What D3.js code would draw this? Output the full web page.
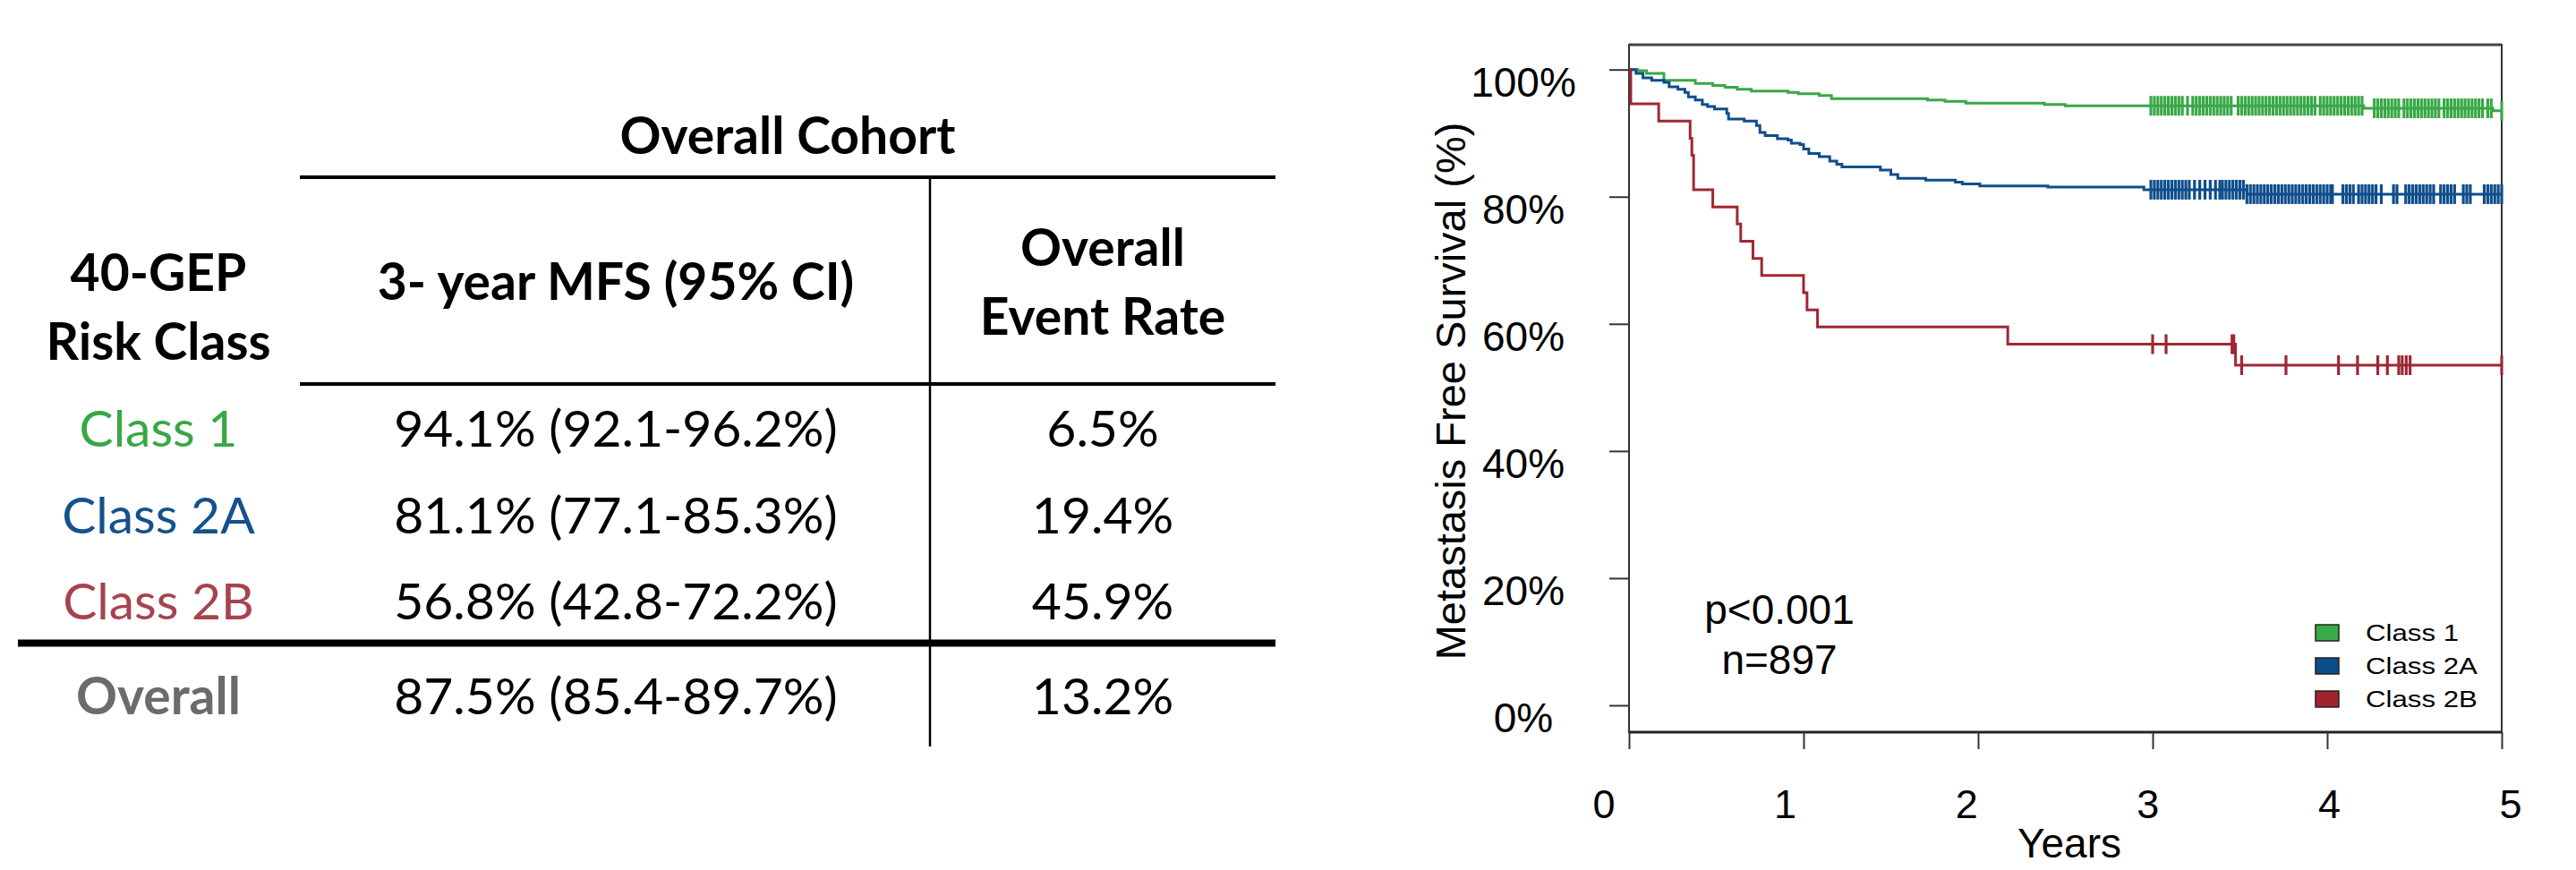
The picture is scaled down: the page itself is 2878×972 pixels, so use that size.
<!doctype html>
<html>
<head>
<meta charset="utf-8">
<title>40-GEP risk class - metastasis free survival</title>
<script src="https://cdnjs.cloudflare.com/ajax/libs/d3/7.8.5/d3.min.js"></script>
<style>
  body { margin: 0; background: #fff; }
  svg { display: block; }
</style>
</head>
<body>
<svg id="viz" width="2878" height="972"></svg>
<script>
// ---------- table data ----------
var riskClasses = ["Class 1", "Class 2A", "Class 2B"];
var classColors = ["#37a844", "#15518d", "#a6434f"];
var mfs3yr   = [94.1, 81.1, 56.8];
var ciLow    = [92.1, 77.1, 42.8];
var ciHigh   = [96.2, 85.3, 72.2];
var eventRate = [6.5, 19.4, 45.9];
var overallMfs = 87.5, overallLow = 85.4, overallHigh = 89.7, overallEvent = 13.2;

// ---------- KM curve data (years, % metastasis free) ----------
var class1Steps = [[0,100],[0.05,99.8],[0.10,99.4],[0.20,98.3],[0.38,97.8],[0.48,97.5],[0.55,97.2],
  [0.62,96.9],[0.70,96.6],[0.91,96.4],[0.97,96.2],[1.09,95.9],[1.16,95.4],[1.71,95.2],[1.81,95.0],
  [1.93,94.7],[2.38,94.5],[2.50,94.3],[4.21,93.9],[4.95,93.5],[5,93.5]];
var class2aSteps = [[0,100],[0.04,99.4],[0.08,98.7],[0.13,98.3],[0.20,98.0],[0.23,97.3],[0.28,96.9],
  [0.32,96.4],[0.34,95.7],[0.38,95.2],[0.42,94.5],[0.45,94.2],[0.49,93.8],[0.56,93.1],[0.57,92.2],
  [0.66,91.9],[0.73,91.2],[0.75,90.1],[0.78,89.6],[0.85,89.1],[0.91,88.9],[0.93,88.4],[0.98,88.2],
  [1.00,87.5],[1.03,86.8],[1.09,86.3],[1.15,85.6],[1.19,85.1],[1.22,84.7],[1.44,84.2],[1.50,83.5],
  [1.54,82.9],[1.70,82.6],[1.87,82.3],[1.91,82.0],[2.01,81.7],[2.40,81.5],[2.95,81.1],[3.54,80.4],[5,80.4]];
var class2bSteps = [[0,100],[0.01,94.6],[0.17,91.9],[0.35,89.2],[0.36,86.5],[0.37,81.1],[0.48,78.4],
  [0.62,75.7],[0.64,73.0],[0.71,70.3],[0.76,67.6],[1.00,64.9],[1.02,62.2],[1.08,59.5],[2.17,56.8],
  [3.475,53.5],[5,53.5]];

// censoring times (years)
var class1Censor = [2.99,3.01,3.03,3.05,3.07,3.09,3.11,3.13,3.15,3.17,3.20,3.23,3.25,3.27,3.29,3.31,3.33,
  3.35,3.37,3.39,3.41,3.43,3.45,3.49,3.51,3.53,3.55,3.57,3.59,3.61,3.63,3.65,3.67,3.69,3.71,3.73,3.75,
  3.77,3.79,3.81,3.83,3.85,3.87,3.89,3.91,3.93,3.96,3.98,4.00,4.02,4.04,4.06,4.08,4.10,4.12,4.14,4.16,
  4.18,4.20,4.27,4.29,4.31,4.33,4.35,4.37,4.39,4.41,4.44,4.46,4.48,4.50,4.52,4.54,4.56,4.58,4.60,4.62,
  4.64,4.67,4.69,4.71,4.73,4.75,4.77,4.79,4.81,4.83,4.85,4.87,4.89,4.92,4.94,5.0];
var class2aCensor = [2.99,3.01,3.03,3.05,3.07,3.09,3.11,3.13,3.15,3.17,3.19,3.21,3.24,3.27,3.30,3.33,
  3.36,3.385,3.40,3.42,3.44,3.46,3.48,3.50,3.52,3.54,3.56,3.58,3.60,3.62,3.64,3.66,3.68,3.70,3.72,3.74,
  3.76,3.78,3.80,3.82,3.84,3.86,3.88,3.90,3.92,3.94,3.96,3.98,4.00,4.02,4.03,4.09,4.11,4.13,4.15,4.18,
  4.20,4.22,4.24,4.26,4.28,4.31,4.38,4.40,4.45,4.47,4.49,4.51,4.53,4.55,4.57,4.59,4.61,4.65,4.67,4.69,
  4.71,4.73,4.78,4.80,4.82,4.90,4.92,4.94,4.96,4.98,5.0];
var class2bCensor = [3.00,3.077,3.455,3.465,3.51,3.764,4.065,4.174,4.29,4.345,4.41,4.43,4.453,4.475,5.0];

var yTicks = [0, 20, 40, 60, 80, 100];
var xTicks = [0, 1, 2, 3, 4, 5];
var pText = "p<0.001", nText = "n=897";

var curves = [
  {steps: class1Steps, censor: class1Censor, color: "#39a846"},
  {steps: class2aSteps, censor: class2aCensor, color: "#0f4e8b"},
  {steps: class2bSteps, censor: class2bCensor, color: "#9f2733"}
];
var legendColors = ["#3bab49", "#0d4c8a", "#a1232f"];

var svg = d3.select("#viz");
var pct = d3.format(".1f");

// ================= TABLE =================
var tbl = svg.append("g").attr("font-family", "Lato, 'Open Sans', sans-serif");
var colX = [177, 688, 1232];
var rowY = d3.scalePoint().domain(riskClasses).range([499, 692]);

tbl.append("text").attr("x", 880).attr("y", 172).attr("text-anchor", "middle")
   .attr("font-size", 57).attr("font-weight", 700).text("Overall Cohort");

var headers = [
  {x: colX[0], lines: ["40-GEP", "Risk Class"], y: 325},
  {x: colX[1], lines: ["3- year MFS (95% CI)"], y: 335},
  {x: colX[2], lines: ["Overall", "Event Rate"], y: 297}
];
headers.forEach(function(h) {
  h.lines.forEach(function(l, i) {
    tbl.append("text").attr("x", h.x).attr("y", h.y + i * 77)
       .attr("text-anchor", "middle").attr("font-size", 57).attr("font-weight", 700)
       .text(l);
  });
});

// rule lines
tbl.append("line").attr("x1", 335).attr("x2", 1425).attr("y1", 198).attr("y2", 198)
   .attr("stroke", "#000").attr("stroke-width", 4);
tbl.append("line").attr("x1", 335).attr("x2", 1425).attr("y1", 429).attr("y2", 429)
   .attr("stroke", "#000").attr("stroke-width", 4);
tbl.append("line").attr("x1", 20).attr("x2", 1425).attr("y1", 718.5).attr("y2", 718.5)
   .attr("stroke", "#000").attr("stroke-width", 8);
tbl.append("line").attr("x1", 1039).attr("x2", 1039).attr("y1", 198).attr("y2", 834)
   .attr("stroke", "#000").attr("stroke-width", 2.5);

var rows = tbl.selectAll("g.row").data(riskClasses).enter().append("g").attr("class", "row")
   .attr("font-size", 57);
rows.append("text").attr("x", colX[0]).attr("y", d => rowY(d)).attr("text-anchor", "middle")
   .attr("fill", (d, i) => classColors[i]).text(d => d);
rows.append("text").attr("x", colX[1]).attr("y", d => rowY(d)).attr("text-anchor", "middle")
   .text((d, i) => pct(mfs3yr[i]) + "% (" + pct(ciLow[i]) + "-" + pct(ciHigh[i]) + "%)");
rows.append("text").attr("x", colX[2]).attr("y", d => rowY(d)).attr("text-anchor", "middle")
   .text((d, i) => pct(eventRate[i]) + "%");

tbl.append("text").attr("x", colX[0]).attr("y", 798).attr("text-anchor", "middle")
   .attr("font-size", 57).attr("font-weight", 700).attr("fill", "#6b6b6b").text("Overall");
tbl.append("text").attr("x", colX[1]).attr("y", 798).attr("text-anchor", "middle").attr("font-size", 57)
   .text(pct(overallMfs) + "% (" + pct(overallLow) + "-" + pct(overallHigh) + "%)");
tbl.append("text").attr("x", colX[2]).attr("y", 798).attr("text-anchor", "middle").attr("font-size", 57)
   .text(pct(overallEvent) + "%");

// ================= KM CHART =================
var chart = svg.append("g").attr("font-family", "'Liberation Sans', Arial, sans-serif");
var plotTop = 50, plotBottom = 818;
var x = d3.scaleLinear().domain([0, 5]).range([1820, 2795]);
var y = d3.scaleLinear().domain([0, 100]).range([788, 77.7]);
var xLabelPos = d3.scaleLinear().domain([0, 5]).range([1792, 2805]);

// box
chart.append("rect").attr("x", x(0)).attr("y", plotTop)
  .attr("width", x(5) - x(0)).attr("height", plotBottom - plotTop)
  .attr("fill", "none").attr("stroke", "#333").attr("stroke-width", 2);
chart.append("line").attr("x1", x(0)).attr("x2", x(5)).attr("y1", plotTop).attr("y2", plotTop)
  .attr("stroke", "#444").attr("stroke-width", 3);
chart.append("line").attr("x1", x(0)).attr("x2", x(5)).attr("y1", plotBottom).attr("y2", plotBottom)
  .attr("stroke", "#222").attr("stroke-width", 3);

// y axis
var yAxis = chart.append("g").attr("transform", "translate(" + x(0) + ",0)")
  .call(d3.axisLeft(y).tickValues(yTicks).tickSize(22).tickFormat(d => d + "%"));
yAxis.select(".domain").remove();
yAxis.selectAll(".tick line").attr("stroke", "#333").attr("stroke-width", 2);
yAxis.selectAll(".tick text").attr("x", -118).attr("y", 13).attr("dy", "0.36em")
  .attr("text-anchor", "middle").attr("font-size", 46).attr("font-family", null).attr("fill", "#000");

// x axis
var xAxis = chart.append("g").attr("transform", "translate(0," + plotBottom + ")")
  .call(d3.axisBottom(x).tickValues(xTicks).tickSize(19).tickFormat(""));
xAxis.select(".domain").remove();
xAxis.selectAll(".tick line").attr("stroke", "#333").attr("stroke-width", 2);
chart.selectAll("text.xlab").data(xTicks).enter().append("text").attr("class", "xlab")
  .attr("x", d => xLabelPos(d)).attr("y", 914).attr("text-anchor", "middle")
  .attr("font-size", 45).text(d => d);

chart.append("text").attr("x", 2312).attr("y", 958).attr("text-anchor", "middle")
  .attr("font-size", 46).text("Years");
chart.append("text").attr("transform", "translate(1637,437) rotate(-90)")
  .attr("text-anchor", "middle").attr("font-size", 47).text("Metastasis Free Survival (%)");

// curves
var line = d3.line().x(d => x(d[0])).y(d => y(d[1])).curve(d3.curveStepAfter);
function survAt(steps, t) {
  var v = steps[0][1];
  steps.forEach(function(s) { if (s[0] <= t) v = s[1]; });
  return v;
}
curves.forEach(function(c) {
  chart.append("path").datum(c.steps).attr("d", line).attr("fill", "none")
    .attr("stroke", c.color).attr("stroke-width", 3);
  chart.append("g").selectAll("line").data(c.censor).enter().append("line")
    .attr("x1", d => x(d)).attr("x2", d => x(d))
    .attr("y1", d => y(survAt(c.steps, d)) - 11).attr("y2", d => y(survAt(c.steps, d)) + 11)
    .attr("stroke", c.color).attr("stroke-width", 3.2);
});

// p value / n
chart.append("text").attr("x", 1988).attr("y", 697).attr("text-anchor", "middle")
  .attr("font-size", 46).text(pText);
chart.append("text").attr("x", 1988).attr("y", 753).attr("text-anchor", "middle")
  .attr("font-size", 46).text(nText);

// legend
var legend = chart.selectAll("g.leg").data(riskClasses).enter().append("g").attr("class", "leg")
  .attr("transform", (d, i) => "translate(2587," + (698 + i * 37) + ")");
legend.append("rect").attr("width", 26).attr("height", 18)
  .attr("fill", (d, i) => legendColors[i]).attr("stroke", "#222").attr("stroke-width", 1.5);
legend.append("text").attr("transform", "translate(56,18) scale(1.2,1)")
  .attr("font-size", 26).text(d => d);
</script>
</body>
</html>
